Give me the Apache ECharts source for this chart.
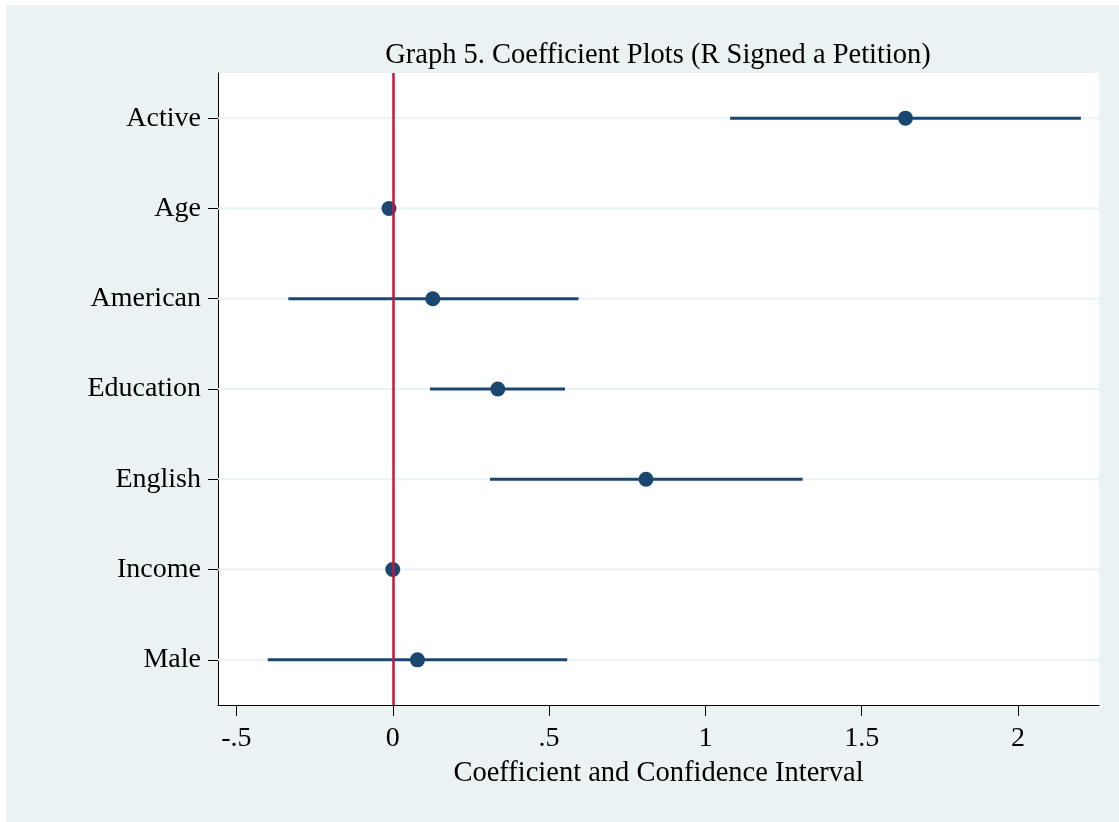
<!DOCTYPE html>
<html>
<head>
<meta charset="utf-8">
<script src="https://cdn.jsdelivr.net/npm/echarts@6/dist/echarts.min.js"></script>
<style>
html,body{margin:0;padding:0;background:#fff;}
#chart{width:1119px;height:822px;}
</style>
</head>
<body>
<div id="chart"></div>
<script>
const categories = ['Active', 'Age', 'American', 'Education', 'English', 'Income', 'Male'];
const coef   = [1.640, -0.012, 0.128, 0.336, 0.810, 0.000, 0.079];
const ciLow  = [1.079, -0.016, -0.334, 0.119, 0.311, -0.003, -0.400];
const ciHigh = [2.201, -0.008, 0.594, 0.551, 1.311, 0.003, 0.558];
const xTicks = [-0.5, 0, 0.5, 1, 1.5, 2];
const xTickLabels = ['-.5', '0', '.5', '1', '1.5', '2'];
const xMin = -0.559, xMax = 2.259;

const FONT = '"Liberation Serif", "Times New Roman", serif';
const NAVY = '#1A476F';
const RED = '#C8143C';
const BG = '#EAF2F3';

const chart = echarts.init(document.getElementById('chart'));
chart.setOption({
  backgroundColor: '#ffffff',
  animation: false,
  graphic: [{
    type: 'rect', z: -10, silent: true,
    shape: { x: 6, y: 5, width: 1113, height: 817 },
    style: { fill: BG }
  }],
  title: {
    text: 'Graph 5. Coefficient Plots (R Signed a Petition)',
    left: 653, top: 36, textAlign: 'center',
    textStyle: { fontFamily: FONT, fontSize: 28.5, fontWeight: 'normal', color: '#000' }
  },
  grid: {
    left: 218, top: 73, right: 20, bottom: 117,
    show: true, backgroundColor: '#ffffff', borderWidth: 0
  },
  xAxis: {
    type: 'value', min: xMin, max: xMax,
    name: 'Coefficient and Confidence Interval',
    nameLocation: 'middle', nameGap: 54,
    nameTextStyle: { fontFamily: FONT, fontSize: 28.5, color: '#000' },
    axisLine: { show: true, onZero: false, lineStyle: { color: '#000', width: 1 } },
    axisTick: { show: true, length: 11, customValues: xTicks, lineStyle: { color: '#000', width: 1 } },
    axisLabel: {
      customValues: xTicks, margin: 20,
      fontFamily: FONT, fontSize: 28, color: '#000',
      formatter: function (v) { const i = xTicks.indexOf(v); return i >= 0 ? xTickLabels[i] : ''; }
    },
    splitLine: { show: false }
  },
  yAxis: {
    type: 'category', data: categories, inverse: true,
    axisLine: { show: true, onZero: false, lineStyle: { color: '#000', width: 1 } },
    axisTick: { show: true, alignWithLabel: true, length: 10, lineStyle: { color: '#000', width: 1 } },
    axisLabel: { margin: 17, fontFamily: FONT, fontSize: 28, color: '#000', padding: [4, 0, 0, 0] },
    splitLine: { show: false }
  },
  series: [
    {
      type: 'custom', z: 1, silent: true,
      data: categories.map((c, i) => [i]),
      renderItem: function (params, api) {
        const cs = params.coordSys;
        const y = api.coord([0, api.value(0)])[1];
        return { type: 'line', shape: { x1: cs.x, y1: y, x2: cs.x + cs.width, y2: y },
                 style: { stroke: BG, lineWidth: 2 } };
      }
    },
    {
      type: 'custom', z: 2, silent: true,
      data: categories.map((c, i) => [i, ciLow[i], ciHigh[i]]),
      renderItem: function (params, api) {
        const a = api.coord([api.value(1), api.value(0)]);
        const b = api.coord([api.value(2), api.value(0)]);
        return { type: 'line', shape: { x1: a[0], y1: a[1], x2: b[0], y2: b[1] },
                 style: { stroke: NAVY, lineWidth: 3 } };
      }
    },
    {
      type: 'line', z: 3, data: [], silent: true,
      markLine: {
        silent: true, symbol: 'none', label: { show: false },
        lineStyle: { color: RED, width: 2.5, type: 'solid' },
        data: [{ xAxis: 0 }]
      }
    },
    {
      type: 'scatter', z: 4, symbol: 'circle', symbolSize: 15,
      itemStyle: { color: NAVY, opacity: 1 },
      data: categories.map((c, i) => [coef[i], c])
    }
  ]
});
</script>
</body>
</html>
